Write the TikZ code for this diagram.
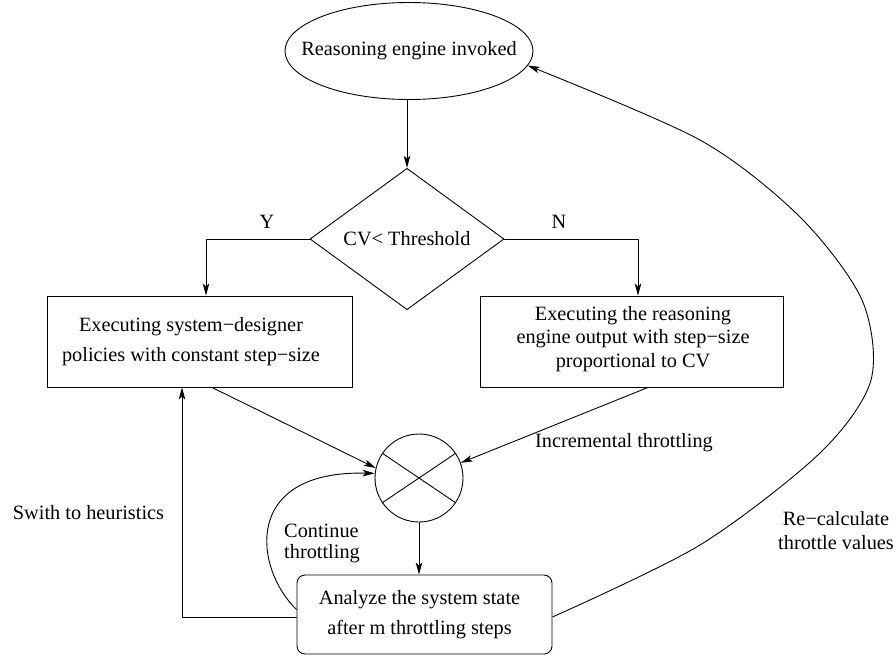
\documentclass[tikz,border=0pt]{standalone}
\usepackage{fontspec}
\setmainfont{Liberation Serif}
\usetikzlibrary{shapes.geometric,arrows.meta}
\tikzset{
  basefont/.style={font=\fontsize{20.3}{30}\selectfont},
  lw/.style={line width=0.9pt},
  arr/.style={lw, -{Stealth[length=12pt,width=6.5pt,inset=3pt]}},
  boxshape/.style={draw, lw, rectangle, inner sep=0pt},
  txt/.style={basefont, inner sep=0pt, align=center},
}
\begin{document}
\begin{tikzpicture}[x=1pt,y=-1pt]
\useasboundingbox (0,0) rectangle (896,657);

% nodes
\node[draw, lw, ellipse, minimum width=248pt, minimum height=97pt, inner sep=0pt] (e) at (409,51) {};
\node[txt] (etext) at (409,51) {Reasoning engine invoked};
\node[draw, lw, diamond, minimum width=194pt, minimum height=130pt, inner sep=0pt, basefont] (d) at (407,239) {CV< Threshold};
\node[boxshape, minimum width=305pt, minimum height=91pt] (lbox) at (199.5,341.5) {};
\node[txt] (ltext) at (191,342) {Executing system−designer\\policies with constant step−size};
\node[boxshape, minimum width=303pt, minimum height=91pt] (rbox) at (631.5,341.5) {};
\node[txt, font=\fontsize{20.3}{23.5}\selectfont] (rtext) at (633,339) {Executing the reasoning\\engine output with step−size\\proportional to CV};
\node[draw, lw, circle, minimum size=88pt, inner sep=0pt] (c) at (419,478) {};
\node[boxshape, rounded corners=8pt, minimum width=255pt, minimum height=79pt] (bbox) at (424.5,614.5) {};
\node[txt] (btext) at (419.5,615) {Analyze the system state\\after m throttling steps};

% labels
\node[txt] (ylab) at (267,222) {Y};
\node[txt] (nlab) at (559,222) {N};
\node[txt] (inclab) at (624,442.5) {Incremental throttling};
\node[txt] (swlab) at (88.5,512.5) {Swith to heuristics};
\node[txt, align=left, font=\fontsize{20.3}{21}\selectfont] (contlab) at (322,543) {Continue\\throttling};
\node[txt, font=\fontsize{20.3}{24}\selectfont] (reclab) at (836,531) {Re−calculate\\throttle values};

% X in circle
\draw[lw] (c.146) -- (c.-34);
\draw[lw] (c.34) -- (c.214);

% connectors
\draw[arr] (e.south -| d.north) -- (d.north);
\draw[arr] (d.west) -| ([xshift=6.5pt]lbox.north);
\draw[arr] (d.east) -| ([xshift=6.5pt]rbox.north);
\draw[arr] ([xshift=12.5pt]lbox.south) -- (c.167);
\draw[arr] ([xshift=16.5pt]rbox.south) -- (c.20);
\draw[arr] (c.south) -- (c.south |- bbox.north);
\draw[arr] ([yshift=5pt]bbox.west) .. controls (255,570) and (240,470) .. (c.174);
\draw[arr] ([yshift=-2.5pt]bbox.west) -| ([xshift=-17.5pt]lbox.south);
\draw[arr] plot[smooth] coordinates {([yshift=-2.5pt]bbox.east) (700,545) (820,453) (871,380) (862,300) (800,217) (700,140) (e.-7)};
\end{tikzpicture}
\end{document}
